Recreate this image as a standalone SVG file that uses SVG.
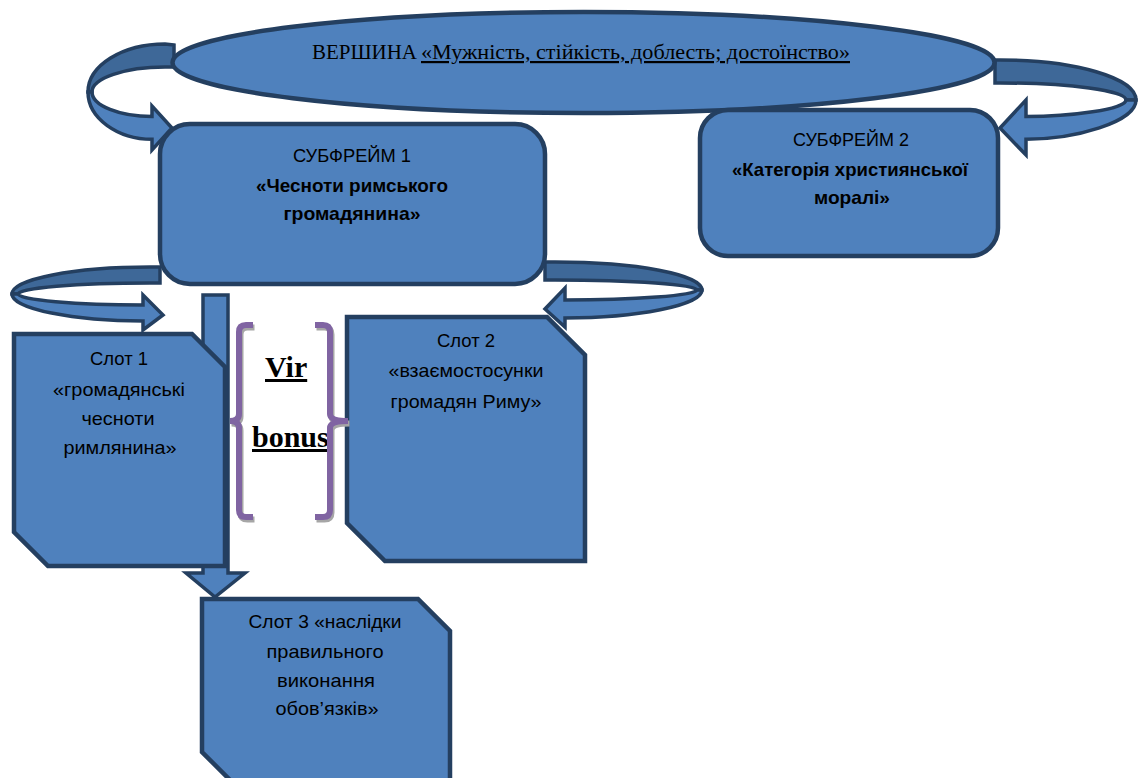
<svg xmlns="http://www.w3.org/2000/svg" width="1139" height="778" viewBox="0 0 1139 778">
<defs>
<style>
.box{fill:#4F81BD;stroke:#243F60;stroke-width:4.5;stroke-linejoin:miter}
.arr{fill:#4F81BD;stroke:#243F60;stroke-width:3.5;stroke-linejoin:miter}
.arrd{fill:#3E6898;stroke:#243F60;stroke-width:3.5;stroke-linejoin:miter}
.t{font-family:"Liberation Sans",Arial,sans-serif;font-size:19px;fill:#000;text-anchor:middle}
.b{font-weight:bold}
.serif{font-family:"Liberation Serif","Times New Roman",serif;fill:#000}
.br{fill:none;stroke:#8064A2;stroke-width:6}
.brs{fill:none;stroke:#A6A6A6;stroke-width:6}
</style>
<clipPath id="vbclip"><rect x="240" y="330" width="87" height="190"/></clipPath>
</defs>
<rect x="0" y="0" width="1139" height="778" fill="#FFFFFF"/>

<g id="connectors">
  <!-- ellipse -> subframe 1 -->
  <path class="arrd" d="M174,45 L165,44 C122.5,44 88,65.5 88,92 L92,92 C92,78.2 124.7,67 165,67 L174,67 Z"/>
  <path class="arr" d="M88,92 C88,118.5 118,139.3 152,139.3 L152,150 L172,128 L152,106 L152,116.6 C120,116.6 92,105.8 92,92 Z"/>
  <!-- ellipse -> subframe 2 -->
  <path class="arrd" d="M995,60 L1000,60 C1075.1,60 1136,77.9 1136,100 L1126,100 C1126,90.6 1069.6,83 1000,83 L995,83 Z"/>
  <path class="arr" d="M1136,100 C1136,122.1 1075,139.3 1026,139.3 L1026,155 L1000,128 L1026,100 L1026,116.6 C1070,116.6 1126,109.4 1126,100 Z"/>
  <!-- subframe 1 -> slot 1 -->
  <path class="arrd" d="M160,267 L150,267 C73.8,267 12,279.1 12,294 L18,294 C18,288 77,283 150,283 L160,283 Z"/>
  <path class="arr" d="M12,294 C12,308.9 73.8,321 143,321 L143,330 L163,315 L143,295 L143,305 C77,305 18,300 18,294 Z"/>
  <!-- subframe 1 -> slot 2 -->
  <path class="arrd" d="M545,262 L555,262 C636.2,262 702,274.5 702,290 L697,290 C697,284.5 633.4,280 555,280 L545,280 Z"/>
  <path class="arr" d="M702,290 C702,305.5 636.2,318 565,318 L565,327 L545,309 L565,288 L565,300 C633.4,300 697,295.5 697,290 Z"/>
  <!-- subframe 1 -> slot 3 -->
  <path class="arr" d="M203,295 L228,295 L228,573 L245,573 L215,597 L186,573 L203,573 Z"/>
</g>

<g id="vershyna">
  <ellipse class="box" cx="583.5" cy="62.5" rx="411" ry="50.5"/>
  <text class="serif" font-size="22" y="59"><tspan x="312" textLength="105" lengthAdjust="spacingAndGlyphs">ВЕРШИНА</tspan><tspan x="421" textLength="429" lengthAdjust="spacingAndGlyphs" text-decoration="underline">«Мужність, стійкість, доблесть; достоїнство»</tspan></text>
</g>

<g id="subframe1">
  <rect class="box" x="160" y="124" width="385" height="160" rx="30" ry="30"/>
  <text class="t" x="352" y="162" textLength="118" lengthAdjust="spacingAndGlyphs">СУБФРЕЙМ 1</text>
  <text class="t b" x="352" y="192" textLength="192" lengthAdjust="spacingAndGlyphs">«Чесноти римського</text>
  <text class="t b" x="352" y="220" textLength="137" lengthAdjust="spacingAndGlyphs">громадянина»</text>
</g>

<g id="subframe2">
  <rect class="box" x="700" y="110" width="298" height="146" rx="28" ry="28"/>
  <text class="t" x="851" y="145.5" textLength="116" lengthAdjust="spacingAndGlyphs">СУБФРЕЙМ 2</text>
  <text class="t b" x="850" y="176" textLength="236" lengthAdjust="spacingAndGlyphs">«Категорія християнської</text>
  <text class="t b" x="852" y="204" textLength="76" lengthAdjust="spacingAndGlyphs">моралі»</text>
</g>

<g id="slot1">
  <polygon class="box" points="14,334 192,334 225,367 225,566 48,566 14,532"/>
  <text class="t" x="119" y="365" textLength="58" lengthAdjust="spacingAndGlyphs">Слот 1</text>
  <text class="t" x="119" y="396" textLength="132" lengthAdjust="spacingAndGlyphs">«громадянські</text>
  <text class="t" x="118" y="425" textLength="73" lengthAdjust="spacingAndGlyphs">чесноти</text>
  <text class="t" x="120" y="454" textLength="113" lengthAdjust="spacingAndGlyphs">римлянина»</text>
</g>

<g id="slot2">
  <polygon class="box" points="347,317 547,317 585,355 585,561 385,561 347,523"/>
  <text class="t" x="466" y="347" textLength="58" lengthAdjust="spacingAndGlyphs">Слот 2</text>
  <text class="t" x="466" y="377" textLength="155" lengthAdjust="spacingAndGlyphs">«взаємостосунки</text>
  <text class="t" x="466" y="408" textLength="151" lengthAdjust="spacingAndGlyphs">громадян Риму»</text>
</g>

<g id="slot3">
  <polygon class="box" points="202,599 418,599 450,631 450,790 240,790 202,752"/>
  <text class="t" x="325" y="628" textLength="153" lengthAdjust="spacingAndGlyphs">Слот 3 «наслідки</text>
  <text class="t" x="325" y="658" textLength="117" lengthAdjust="spacingAndGlyphs">правильного</text>
  <text class="t" x="326" y="687" textLength="98" lengthAdjust="spacingAndGlyphs">виконання</text>
  <text class="t" x="327" y="715" textLength="103" lengthAdjust="spacingAndGlyphs">обов’язків»</text>
</g>

<g id="vir-bonus">
  <g clip-path="url(#vbclip)">
    <text class="serif" font-size="30" font-weight="bold" x="265" y="377" text-decoration="underline">Vir</text>
    <text class="serif" font-size="30" font-weight="bold" x="252" y="447" text-decoration="underline">bonus</text>
  </g>
  <g transform="translate(1.5,2.5)">
    <path class="brs" d="M253,325 L246,325 Q239,325 239,332 L239,414 Q239,421 230,421 Q239,421 239,428 L239,510 Q239,517 246,517 L253,517"/>
    <path class="brs" d="M315,325 L323,325 Q330,325 330,332 L330,414 Q330,421 348,421 Q330,421 330,428 L330,510 Q330,517 323,517 L315,517"/>
  </g>
  <path class="br" d="M253,325 L246,325 Q239,325 239,332 L239,414 Q239,421 230,421 Q239,421 239,428 L239,510 Q239,517 246,517 L253,517"/>
  <path class="br" d="M315,325 L323,325 Q330,325 330,332 L330,414 Q330,421 348,421 Q330,421 330,428 L330,510 Q330,517 323,517 L315,517"/>
</g>
</svg>
